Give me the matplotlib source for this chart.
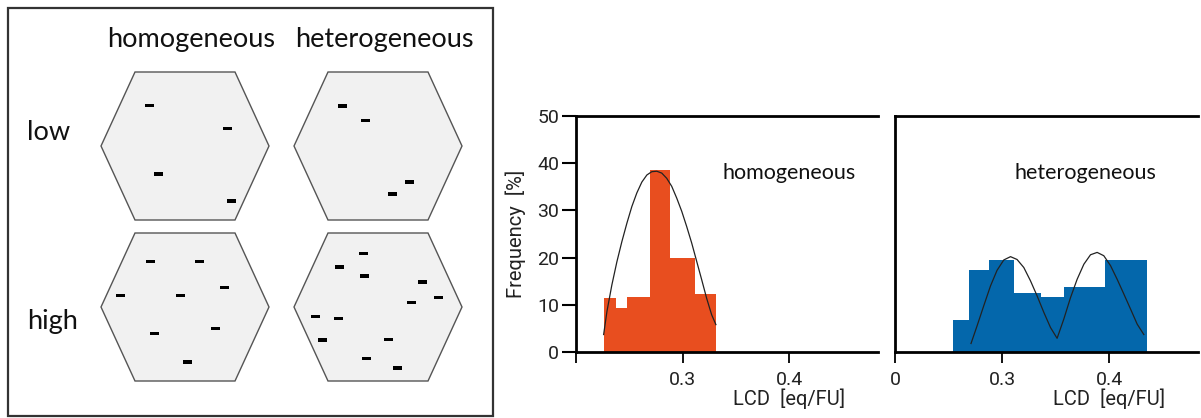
import numpy as np
import matplotlib.pyplot as plt
import matplotlib.patches as mpatches

W, H = 1201, 418

# --- schematic: dash positions inside the four hexagons (pixel units) ---
low_hom_x = [149, 227.7, 158, 231]
low_hom_y = [105.3, 128.7, 174, 201]
low_het_x = [342.7, 365.3, 409.3, 392.7]
low_het_y = [106, 120.7, 182, 194]
high_hom_x = [150.7, 199, 120.7, 180, 224, 154.3, 215.7, 187.3]
high_hom_y = [261.3, 261.3, 295.7, 295.7, 287.7, 333.3, 328.7, 362]
high_het_x = [363.3, 339.3, 364.3, 422.7, 438.7, 411, 315, 338.7, 322, 388.7, 366.7, 397]
high_het_y = [253.3, 267, 276, 282, 297.7, 302.7, 316.3, 318.7, 340, 339.3, 358.3, 368]

col_labels = ['homogeneous', 'heterogeneous']
row_labels = ['low', 'high']

# --- histograms: LCD [eq/FU] bin edges and frequency [%] ---
hom_edges = [0.2262, 0.2377, 0.2479, 0.2689, 0.2879, 0.3112, 0.3315]
hom_freq = [11.4, 9.4, 11.7, 38.5, 20.0, 12.3]
hom_fit_x = [0.2259, 0.2290, 0.2336, 0.2383, 0.2430, 0.2477, 0.2523, 0.2570,
             0.2617, 0.2664, 0.2710, 0.2757, 0.2804, 0.2850, 0.2897, 0.2944,
             0.2991, 0.3037, 0.3084, 0.3131, 0.3178, 0.3224, 0.3271, 0.3311]
hom_fit_y = [3.7, 8.6, 14.2, 19.1, 23.4, 27.3, 30.8, 33.7, 36.0, 37.5, 38.2,
             38.3, 37.9, 36.8, 35.1, 32.6, 29.8, 26.6, 23.1, 19.2, 15.3, 11.4,
             7.9, 5.8]

het_edges = [0.2542, 0.2689, 0.2876, 0.3116, 0.3359, 0.3583, 0.3966, 0.4355]
het_freq = [6.8, 17.3, 19.5, 12.5, 11.6, 13.7, 19.5]
het_fit_x = [0.2710, 0.2766, 0.2829, 0.2892, 0.2953, 0.3016, 0.3079, 0.3140,
             0.3203, 0.3265, 0.3327, 0.3390, 0.3452, 0.3514, 0.3577, 0.3639,
             0.3701, 0.3764, 0.3826, 0.3888, 0.3950, 0.4013, 0.4075, 0.4137,
             0.4200, 0.4262, 0.4324]
het_fit_y = [1.8, 5.5, 9.8, 14.0, 17.3, 19.5, 20.2, 19.6, 17.9, 15.1, 11.9,
             8.4, 5.2, 2.9, 7.0, 11.5, 15.4, 18.6, 20.6, 21.1, 20.4, 18.3,
             15.4, 12.3, 9.1, 5.9, 3.7]

x_ticks = [0.2, 0.3, 0.4]
y_ticks = [0, 10, 20, 30, 40, 50]

ORANGE = '#e84e1f'
BLUE = '#0467ab'
label_font = 'Lato'
num_font = 'Roboto'

fig = plt.figure(figsize=(W / 100, H / 100), dpi=100)

# schematic panel drawn in pixel coordinates
ax0 = fig.add_axes([0, 0, 1, 1])
ax0.set_xlim(0, W)
ax0.set_ylim(H, 0)
ax0.axis('off')
ax0.add_patch(mpatches.Rectangle((8, 8), 485, 408, fill=False,
                                 edgecolor='#333333', lw=1.6))


def hexagon(cx, cy):
    hw, tw, hh = 84, 50, 74
    pts = [(cx - hw, cy), (cx - tw, cy - hh), (cx + tw, cy - hh),
           (cx + hw, cy), (cx + tw, cy + hh), (cx - tw, cy + hh)]
    ax0.add_patch(mpatches.Polygon(pts, closed=True, facecolor='#f1f1f1',
                                   edgecolor='#555555', lw=1.0))


for cx in (185, 378):
    for cy in (146, 307):
        hexagon(cx, cy)

for xs, ys in [(low_hom_x, low_hom_y), (low_het_x, low_het_y),
               (high_hom_x, high_hom_y), (high_het_x, high_het_y)]:
    for x, y in zip(xs, ys):
        ax0.add_patch(mpatches.Rectangle((x - 4.5, y - 1.7), 9, 3.4,
                                         facecolor='black', edgecolor='none'))

for x, t in zip((191, 384), col_labels):
    ax0.text(x, 40, t, ha='center', va='center', fontsize=19.5,
             family=label_font, color='#111111')
for y, t in zip((133, 322), row_labels):
    ax0.text(27, y, t, ha='left', va='center', fontsize=19.5,
             family=label_font, color='#111111')

# histogram panels
axl = fig.add_axes([576 / W, 66 / H, 302 / W, 236 / H])
axr = fig.add_axes([895 / W, 66 / H, 303 / W, 236 / H])

panels = [(axl, hom_edges, hom_freq, hom_fit_x, hom_fit_y, ORANGE, 'homogeneous', 0.705),
          (axr, het_edges, het_freq, het_fit_x, het_fit_y, BLUE, 'heterogeneous', 0.627)]

for ax, edges, freq, fx, fy, c, name, tx in panels:
    ax.stairs(freq, edges, fill=True, color=c)
    ax.plot(fx, fy, color='#222222', lw=0.9)
    ax.set_xlim(0.2, 0.483)
    ax.set_ylim(0, 50)
    ax.spines['right'].set_visible(False)
    for s in ('left', 'top', 'bottom'):
        ax.spines[s].set_linewidth(2.0)
    ax.set_xticks(x_ticks)
    ax.tick_params(axis='x', direction='out', length=8, width=1.3, pad=6,
                   labelsize=14)
    ax.set_xlabel('LCD  [eq/FU]', fontsize=14.5, family=num_font,
                  color='#222222')
    ax.xaxis.set_label_coords(0.89, -0.155)
    ax.xaxis.label.set_ha('right')
    ax.text(tx, 0.758, name, transform=ax.transAxes, ha='center', va='center',
            fontsize=15.5, family=label_font, color='#111111')
    ax.patch.set_alpha(0)

axl.set_xticklabels(['', '0.3', '0.4'])
axr.set_xticklabels(['0', '0.3', '0.4'])

axl.set_yticks(y_ticks)
axl.tick_params(axis='y', direction='out', length=10, width=1.5, pad=2,
                labelsize=14)
axl.set_ylabel('Frequency  [%]', fontsize=14.5, family=num_font, labelpad=8,
               color='#222222')

axr.tick_params(axis='y', left=False, labelleft=False)

for lab in (axl.get_xticklabels() + axr.get_xticklabels()
            + axl.get_yticklabels()):
    lab.set_family(num_font)
    lab.set_color('#222222')

fig.savefig('out.png', dpi=100)
